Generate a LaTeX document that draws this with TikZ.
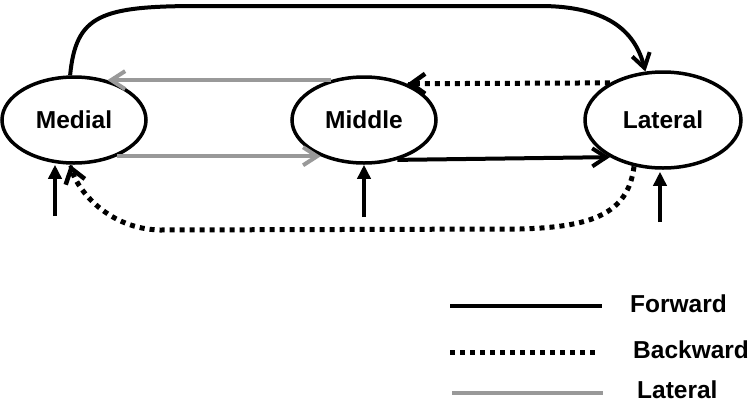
\documentclass[tikz,border=0pt]{standalone}
\usepackage{fontspec}
\setmainfont{Liberation Sans}
\usetikzlibrary{shapes.geometric,arrows.meta,calc}
\begin{document}
\begin{tikzpicture}[x=1pt,y=-1pt,
  area/.style={draw,ellipse,line width=3.5pt,inner sep=0pt,font=\fontsize{24.5}{28}\selectfont\bfseries},
  barb/.style={-{Straight Barb[length=14pt,width=18pt,line width=4pt]}},
  fwd/.style={line width=4pt,barb},
  bwd/.style={line width=5pt,dash pattern=on 5pt off 5pt},
  bwdtip/.style={line width=4pt,-{Straight Barb[length=14pt,width=20pt,line width=4.5pt]}},
  lat/.style={line width=4pt,draw=black!40,barb},
  inp/.style={line width=4pt,-{Triangle[length=14pt,width=13pt]}},
  legtext/.style={anchor=west,inner sep=0pt,font=\fontsize{24.5}{28}\selectfont\bfseries}]
\useasboundingbox[fill=white] (0,0) rectangle (750,405);

\node[area,minimum width=144pt,minimum height=86pt] (medial) at (74,120) {Medial};
\node[area,minimum width=144pt,minimum height=86pt] (middle) at (364,120) {Middle};
\node[area,minimum width=156pt,minimum height=96pt] (lateral) at (663,120) {Lateral};

% forward top curve
\draw[fwd] (medial.95) .. controls (76,15) and (100,6) .. (200,6) -- (540,6)
  .. controls (612,6) and (636,35) .. (lateral.110);
% lateral connections
\draw[lat] (middle.130) -- (medial.50);
\draw[lat] (medial.-40) -- (middle.-140);
% backward
\draw[bwd] (lateral.145) -- ($(middle.40)+(4,0)$);
\draw[bwdtip] ($(middle.40)+(1,0)$) -- (middle.40);
\draw[bwd] (lateral.-122) .. controls (628,215) and (590,227) .. (520,229) -- (160,230)
  .. controls (110,229) and (78,192) .. ($(medial.-95)+(1,4)$);
\draw[bwdtip] ($(medial.-95)+(0.3,1)$) -- (medial.-95);
% forward middle -> lateral
\draw[fwd] (middle.-50) -- (lateral.-145);

% inputs
\coordinate (in1) at (55,216);
\coordinate (in2) at (364,217);
\coordinate (in3) at (660,222);
\draw[inp] (in1) -- (in1 |- medial.south);
\draw[inp] (in2) -- (in2 |- middle.south);
\draw[inp] (in3) -- ([yshift=-2pt]in3 |- lateral.south);

% legend
\coordinate (l1a) at (450,306); \coordinate (l1b) at (602,306);
\coordinate (l2a) at (450,352); \coordinate (l2b) at (597,352);
\coordinate (l3a) at (452,393); \coordinate (l3b) at (603,393);
\draw[line width=4pt] (l1a) -- (l1b);
\draw[line width=5pt,dash pattern=on 5pt off 5pt] (l2a) -- (l2b);
\draw[line width=4pt,draw=black!40] (l3a) -- (l3b);
\node[legtext] (tf) at (630,304) {Forward};
\node[legtext] (tb) at (633,350) {Backward};
\node[legtext] (tl) at (637,390) {Lateral};
\end{tikzpicture}
\end{document}
